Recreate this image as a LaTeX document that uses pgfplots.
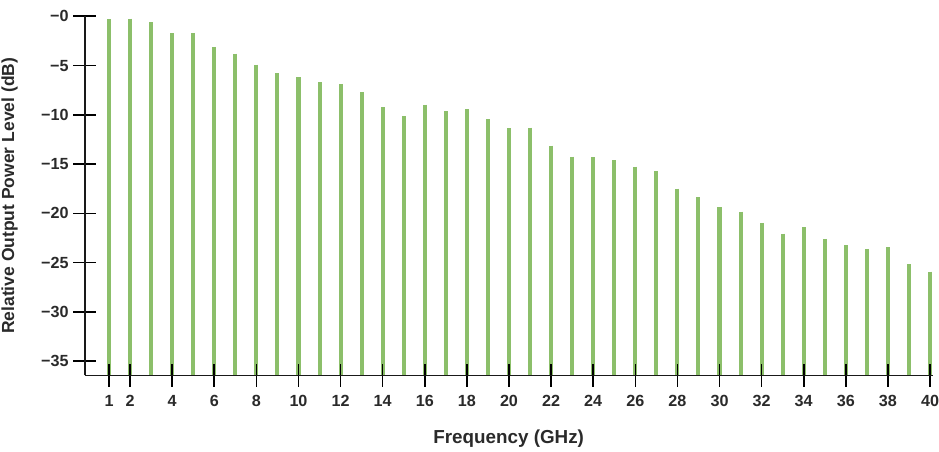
\documentclass[border=0pt]{standalone}
\usepackage{fontspec}
\setmainfont{Liberation Sans}
\usepackage{pgfplots}
\pgfplotsset{compat=1.18}
\definecolor{barg}{HTML}{8CBF6A}
\definecolor{txt}{HTML}{2A2A2A}
\begin{document}
\begin{tikzpicture}
\begin{axis}[
  scale only axis,
  width=630.3pt, height=267pt,
  xmin=-0.15, xmax=40.12, ymin=-36.43, ymax=0,
  axis lines=left,
  axis line style={-, line width=1.1pt, color=black!90},
  set layers,
  clip mode=individual,
  xtick={1,2,4,6,8,10,12,14,16,18,20,22,24,26,28,30,32,34,36,38,40},
  xticklabels={1,2,4,6,8,10,12,14,16,18,20,22,24,26,28,30,32,34,36,38,40},
  ytick={-35,-30,-25,-20,-15,-10,-5,0},
  yticklabels={−35,−30,−25,−20,−15,−10,−5,−0},
  xtick align=center, ytick align=center,
  major tick length=17pt,
  tick style={line width=1.2pt, color=black},
  ticklabel style={font=\fontsize{12}{14}\selectfont\bfseries, text=txt},
  xticklabel style={yshift=-3pt, inner xsep=0pt},
  xlabel={Frequency (GHz)},
  ylabel={Relative Output Power Level (dB)},
  label style={font=\fontsize{13}{15}\selectfont\bfseries, text=txt},
  xlabel style={at={(axis description cs:0.5,0)}, anchor=center, yshift=-47pt, font=\fontsize{14}{16}\selectfont\bfseries},
  ylabel style={at={(axis description cs:0,0.5)}, anchor=center, yshift=56pt, inner sep=1pt},
]
\addplot[on layer=axis background, draw=none, mark=none,
  error bars/.cd, y dir=minus, y fixed=40, error mark=none,
  error bar style={draw=barg, line width=3pt}]
coordinates {
(1,-0.3) (2,-0.24) (3,-0.6) (4,-1.74) (5,-1.7) (6,-3.1) (7,-3.8) (8,-4.9)
(9,-5.8) (10,-6.2) (11,-6.72) (12,-6.86) (13,-7.68) (14,-9.21) (15,-10.16)
(16,-8.97) (17,-9.65) (18,-9.42) (19,-10.44) (20,-11.36) (21,-11.29)
(22,-13.13) (23,-14.23) (24,-14.33) (25,-14.6) (26,-15.25) (27,-15.69)
(28,-17.5) (29,-18.35) (30,-19.38) (31,-19.82) (32,-20.95) (33,-22.04)
(34,-21.42) (35,-22.58) (36,-23.22) (37,-23.6) (38,-23.44) (39,-25.18)
(40,-25.9)
};
\end{axis}
\path (current bounding box.north) ++(0,4.5pt);
\end{tikzpicture}
\end{document}
